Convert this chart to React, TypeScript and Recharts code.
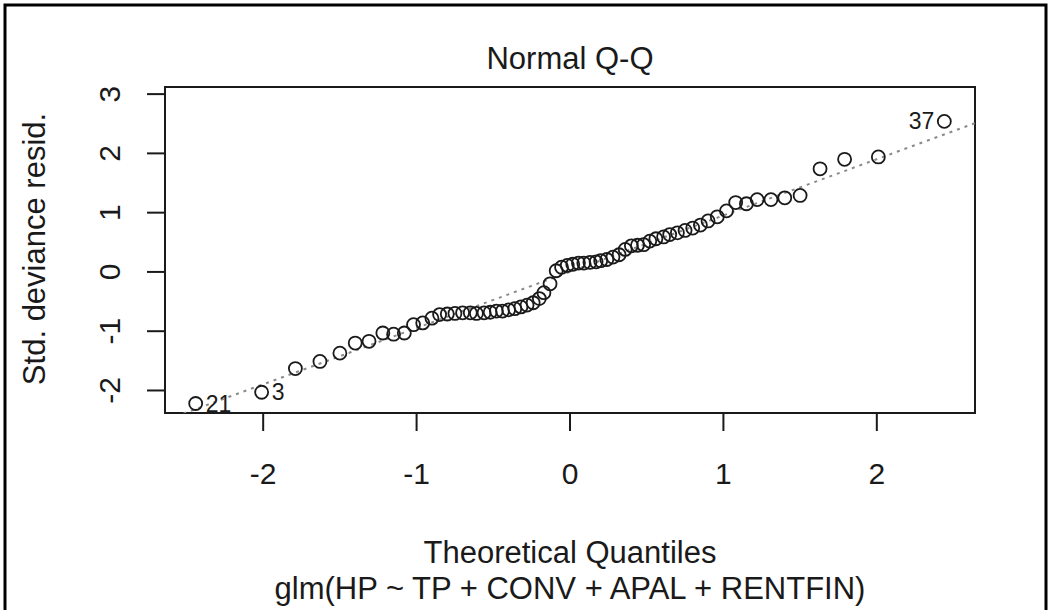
import { ReferenceArea, Scatter, ScatterChart, XAxis, YAxis } from "recharts";

const theoQ = [
    -2.44, -2.01, -1.79, -1.63, -1.5, -1.4, -1.31, -1.22, -1.15, -1.08, -1.02, -0.96,
    -0.9, -0.85, -0.8, -0.75, -0.7, -0.65, -0.61, -0.56, -0.52, -0.48, -0.44, -0.4,
    -0.36, -0.32, -0.28, -0.24, -0.2, -0.17, -0.13, -0.09, -0.055, -0.018,
    0.018, 0.055, 0.09, 0.13, 0.17, 0.2, 0.24, 0.28, 0.32, 0.36, 0.4, 0.44,
    0.48, 0.52, 0.56, 0.61, 0.65, 0.7, 0.75, 0.8, 0.85, 0.9, 0.96, 1.02,
    1.08, 1.15, 1.22, 1.31, 1.4, 1.5, 1.63, 1.79, 2.01, 2.44,
];

// standardized deviance residuals (sorted)
const residuals = [
    -2.22, -2.03, -1.63, -1.51, -1.37, -1.2, -1.17, -1.03, -1.05, -1.03, -0.89, -0.86,
    -0.78, -0.72, -0.71, -0.7, -0.69, -0.69, -0.7, -0.69, -0.68, -0.66, -0.66, -0.64,
    -0.62, -0.59, -0.56, -0.52, -0.45, -0.35, -0.2, 0.02, 0.08, 0.11,
    0.13, 0.15, 0.15, 0.16, 0.17, 0.19, 0.21, 0.25, 0.29, 0.38, 0.44, 0.45,
    0.46, 0.52, 0.56, 0.59, 0.63, 0.66, 0.7, 0.74, 0.79, 0.86, 0.93, 1.03,
    1.17, 1.15, 1.22, 1.22, 1.25, 1.29, 1.74, 1.9, 1.94, 2.54,
];

// observation numbers shown next to the extreme points
const pointIds: Record<number, string> = { 0: "21", 1: "3", 67: "37" };

// dotted qq line endpoints
const lineQ = [-2.52, 2.64];
const lineR = [-2.39, 2.51];

const xTicks = [-2, -1, 0, 1, 2];
const yTicks = [-2, -1, 0, 1, 2, 3];

const points = theoQ.map((q, i) => ({ q, r: residuals[i], id: pointIds[i] }));
const qqLine = lineQ.map((q, i) => ({ q, r: lineR[i] }));

const FONT = "'Liberation Sans', Arial, sans-serif";
const INK = "#1a1a1a";

function PointShape(props: any) {
    const { cx, cy, payload } = props;
    const id = payload?.id;
    const right = payload?.q > 0;
    return (
        <g>
            <circle cx={cx} cy={cy} r={6.5} fill="none" stroke={INK} strokeWidth={1.8} />
            {id && (
                <text
                    x={right ? cx - 10 : cx + 10}
                    y={cy + 8}
                    textAnchor={right ? "end" : "start"}
                    fontSize={23}
                    fontFamily={FONT}
                    fill={INK}
                >
                    {id}
                </text>
            )}
        </g>
    );
}

function XTick({ x, y, payload }: any) {
    return (
        <text x={x} y={y + 53} textAnchor="middle" fontSize={30} fontFamily={FONT} fill={INK}>
            {payload.value}
        </text>
    );
}

function YTick({ x, y, payload }: any) {
    const bx = x - 27;
    return (
        <text
            x={bx}
            y={y}
            transform={`rotate(-90, ${bx}, ${y})`}
            textAnchor="middle"
            fontSize={30}
            fontFamily={FONT}
            fill={INK}
        >
            {payload.value}
        </text>
    );
}

export default function App() {
    return (
        <div style={{ position: "absolute", left: 0, top: 0, width: 1049, height: 610, background: "#fff" }}>
            <ScatterChart
                width={1049}
                height={610}
                margin={{ top: 87, right: 74, left: 105, bottom: 137 }}
            >
                <XAxis
                    type="number"
                    dataKey="q"
                    domain={[-2.64, 2.64]}
                    ticks={xTicks}
                    height={60}
                    axisLine={false}
                    tickSize={18}
                    tickMargin={0}
                    tickLine={{ stroke: INK, strokeWidth: 2 }}
                    tick={<XTick />}
                    allowDataOverflow
                />
                <YAxis
                    type="number"
                    dataKey="r"
                    domain={[-2.38, 3.12]}
                    ticks={yTicks}
                    width={60}
                    axisLine={false}
                    tickSize={18}
                    tickMargin={0}
                    tickLine={{ stroke: INK, strokeWidth: 2 }}
                    tick={<YTick />}
                    allowDataOverflow
                />
                <ReferenceArea
                    x1={-2.64}
                    x2={2.64}
                    y1={-2.38}
                    y2={3.12}
                    fill="none"
                    stroke={INK}
                    strokeWidth={2}
                    fillOpacity={0}
                    strokeOpacity={1}
                />
                <Scatter
                    data={qqLine}
                    line={{ stroke: "#8a8a8a", strokeWidth: 2, strokeDasharray: "3 5" }}
                    shape={() => <g />}
                    isAnimationActive={false}
                />
                <Scatter data={points} shape={<PointShape />} isAnimationActive={false} />
            </ScatterChart>
            <svg
                width={1049}
                height={610}
                style={{ position: "absolute", left: 0, top: 0, pointerEvents: "none" }}
            >
                <rect x={5} y={5} width={1041} height={640} fill="none" stroke="#000" strokeWidth={3} />
                <text x={570} y={69} textAnchor="middle" fontSize={31} fontFamily={FONT} fill={INK}>
                    Normal Q-Q
                </text>
                <text
                    x={45}
                    y={249}
                    transform="rotate(-90, 45, 249)"
                    textAnchor="middle"
                    fontSize={31}
                    fontFamily={FONT}
                    fill={INK}
                >
                    Std. deviance resid.
                </text>
                <text x={570} y={563} textAnchor="middle" fontSize={31} fontFamily={FONT} fill={INK}>
                    Theoretical Quantiles
                </text>
                <text x={570} y={599} textAnchor="middle" fontSize={31} fontFamily={FONT} fill={INK}>
                    glm(HP ~ TP + CONV + APAL + RENTFIN)
                </text>
            </svg>
        </div>
    );
}
